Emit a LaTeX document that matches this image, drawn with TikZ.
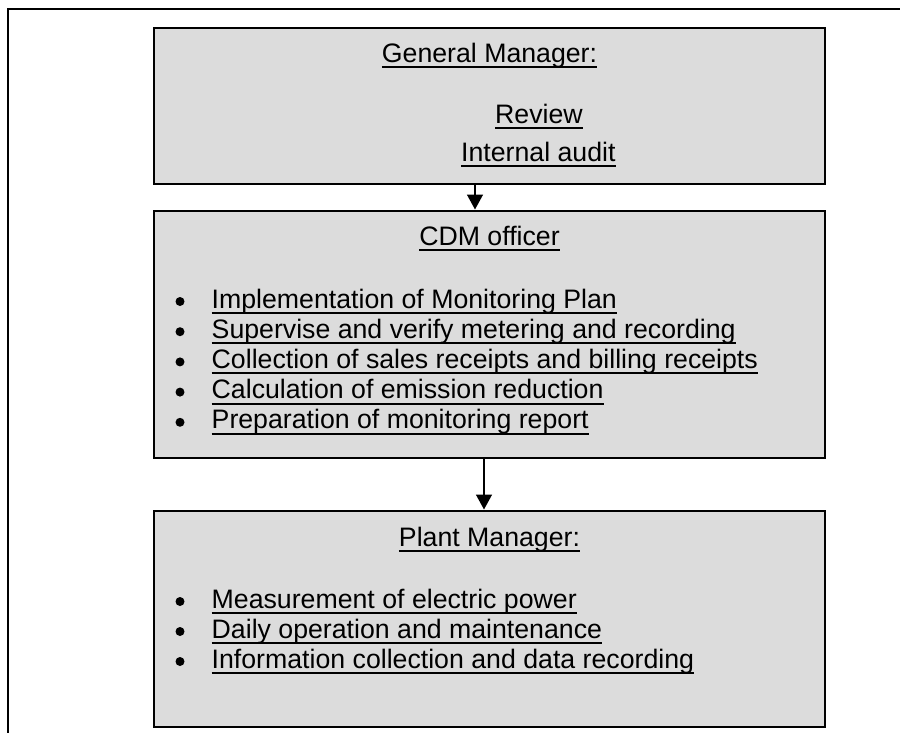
\documentclass[tikz,border=0pt]{standalone}
\usepackage{fontspec}
\setmainfont{Liberation Sans}
\usetikzlibrary{arrows.meta,positioning}
\definecolor{boxgray}{RGB}{220,220,220}
\newsavebox{\ulbox}
\newcommand*{\uln}[1]{\sbox{\ulbox}{#1}\rlap{\rule[-6pt]{\wd\ulbox}{2pt}}\usebox{\ulbox}}
\tikzset{%
  duty/.style={draw, line width=2pt, fill=boxgray, minimum width=671pt, inner sep=0pt},% role box
  title/.style={anchor=base, inner sep=0pt},% heading of a box
  item/.style={anchor=base west, inner sep=0pt},% listed task
  dot/.style={circle, fill=black, inner sep=0pt, minimum size=9pt},% bullet
  flow/.style={line width=1.5pt, -{Triangle[width=16pt,length=15pt]}}% arrow between boxes
}

\begin{document}
\begin{tikzpicture}[x=1pt, y=-1pt, font=\fontsize{26.7}{30.5}\selectfont]
\useasboundingbox (0,0) rectangle (900,732);
\draw[line width=2pt] (8,740) -- (8,9) -- (910,9);

\node[duty, minimum height=156pt] (gm) at (489.5,105.5) {};
\node[duty, minimum height=247pt] (cdm) at (489.5,334) {};
\node[duty, minimum height=216pt] (pm) at (489.5,618.5) {};

\node[title] (gmhead) at (489.5,62) {\uln{General Manager:}};
\node[item] (review) at (495,123) {\uln{Review}};
\node[item] (audit) at (461,161) {\uln{Internal audit}};

\node[title] (cdmhead) at (489.5,245) {\uln{CDM officer}};
\foreach \txt [count=\i] in {Implementation of Monitoring Plan,
    Supervise and verify metering and recording,
    Collection of sales receipts and billing receipts,
    Calculation of emission reduction,
    Preparation of monitoring report} {
  \node[dot] (cdmdot\i) at (180,{271.3+30.2*\i}) {};
  \node[item] (cdm\i) at (211.5,{277.8+30.2*\i}) {\uln{\txt}};
}

\node[title] (pmhead) at (489.5,546) {\uln{Plant Manager:}};
\foreach \txt [count=\i] in {Measurement of electric power,
    Daily operation and maintenance,
    Information collection and data recording} {
  \node[dot] (pmdot\i) at (180,{571.5+30*\i}) {};
  \node[item] (pm\i) at (211.5,{578+30*\i}) {\uln{\txt}};
}

\draw[flow] ([xshift=-14.5pt]gm.south) -- ([xshift=-14.5pt]cdm.north);
\draw[flow] ([xshift=-5.5pt]cdm.south) -- ([xshift=-5.5pt]pm.north);
\end{tikzpicture}
\end{document}
